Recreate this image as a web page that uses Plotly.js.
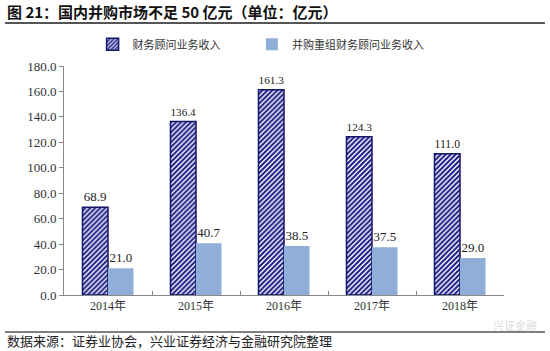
<!DOCTYPE html>
<html>
<head>
<meta charset="utf-8">
<script src="https://cdn.plot.ly/plotly-3.0.1.min.js"></script>
<style>
html,body{margin:0;padding:0;background:#fff;}
#chart{width:550px;height:351px;}
</style>
</head>
<body>
<div id="chart"></div>
<script>
const categories = ["2014年", "2015年", "2016年", "2017年", "2018年"];
const advisoryRevenue = [68.9, 136.4, 161.3, 124.3, 111.0];
const maAdvisoryRevenue = [21.0, 40.7, 38.5, 37.5, 29.0];
const seriesNames = ["财务顾问业务收入", "并购重组财务顾问业务收入"];
const titleText = "图 21：国内并购市场不足 50 亿元（单位：亿元）";
const sourceText = "数据来源：证券业协会，兴业证券经济与金融研究院整理";

const serif = "Liberation Serif, Times New Roman, Noto Sans CJK SC, serif";
const cjk = "Noto Sans CJK SC, sans-serif";

const traces = [
  {
    type: "bar",
    name: seriesNames[0],
    x: categories,
    y: advisoryRevenue,
    legend: "legend",
    marker: {
      color: "#ffffff",
      line: {color: "#15156a", width: 1.5},
      pattern: {shape: "/", fgcolor: "#20208a", bgcolor: "#ffffff", size: 3.5, solidity: 0.6}
    },
    texttemplate: "%{y:.1f}",
    textposition: "outside",
    textfont: {family: serif, size: 13, color: "#222"},
    cliponaxis: false
  },
  {
    type: "bar",
    name: seriesNames[1],
    x: categories,
    y: maAdvisoryRevenue,
    legend: "legend2",
    marker: {color: "#8FAED8"},
    texttemplate: "%{y:.1f}",
    textposition: "outside",
    textfont: {family: serif, size: 13, color: "#222"},
    cliponaxis: false
  }
];

const legendCommon = {
  orientation: "h",
  y: 1.095, yanchor: "middle",
  font: {family: cjk, size: 11, color: "#333"},
  bgcolor: "rgba(0,0,0,0)"
};

const layout = {
  width: 550,
  height: 351,
  margin: {l: 64, r: 46, t: 66, b: 56},
  paper_bgcolor: "#ffffff",
  plot_bgcolor: "#ffffff",
  barmode: "group",
  bargap: 0.42,
  bargroupgap: 0,
  showlegend: true,
  legend: Object.assign({}, legendCommon, {x: 0.065, xanchor: "left"}),
  legend2: Object.assign({}, legendCommon, {x: 0.427, xanchor: "left"}),
  xaxis: {
    type: "category",
    showline: true, linecolor: "#888", linewidth: 1,
    ticks: "inside", tickson: "boundaries", ticklen: 4, tickcolor: "#888",
    tickfont: {family: serif, size: 12, color: "#333"},
    showgrid: false, zeroline: false,
    fixedrange: true
  },
  yaxis: {
    range: [0, 180], dtick: 20, tickformat: ".1f",
    showline: true, linecolor: "#888", linewidth: 1,
    ticks: "outside", ticklen: 4, tickcolor: "#888",
    tickfont: {family: serif, size: 13, color: "#333"},
    showgrid: false, zeroline: false,
    fixedrange: true
  },
  shapes: [
    {type: "line", xref: "paper", yref: "paper", x0: -0.134, x1: 1.093, y0: 1.188, y1: 1.188,
     line: {color: "#555", width: 2}},
    {type: "line", xref: "paper", yref: "paper", x0: -0.134, x1: 1.093, y0: -0.162, y1: -0.162,
     line: {color: "#555", width: 1.5}}
  ],
  annotations: [
    {text: "<b>" + titleText + "</b>", xref: "paper", yref: "paper",
     x: -0.134, xanchor: "left", y: 1.236, yanchor: "middle", showarrow: false,
     font: {family: cjk, size: 15, color: "#111"}},
    {text: sourceText, xref: "paper", yref: "paper",
     x: -0.134, xanchor: "left", y: -0.197, yanchor: "middle", showarrow: false,
     font: {family: cjk, size: 13, color: "#222"}},
    {text: "兴证金融", xref: "paper", yref: "paper",
     x: 1.08, xanchor: "right", y: -0.13, yanchor: "middle", showarrow: false,
     font: {family: cjk, size: 11, color: "#dcdcdc"}}
  ]
};

Plotly.newPlot("chart", traces, layout, {displayModeBar: false, staticPlot: true});
</script>
</body>
</html>
